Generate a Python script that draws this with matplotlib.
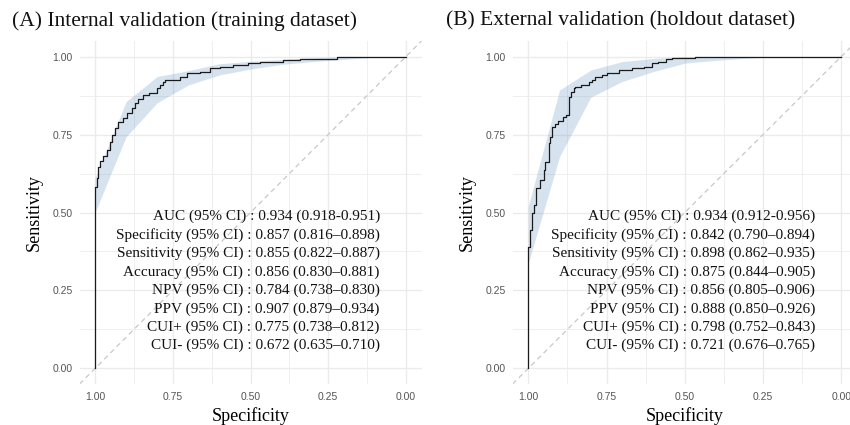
import matplotlib
matplotlib.use("Agg")
import matplotlib.pyplot as plt
import numpy as np

# ---------------- data ----------------
spec_a = [1.0, 1.0, 0.995, 0.99, 0.984, 0.975, 0.963, 0.952, 0.944, 0.936, 0.925, 0.909,
          0.896, 0.882, 0.872, 0.861, 0.845, 0.828, 0.802, 0.791, 0.78, 0.775, 0.727,
          0.705, 0.662, 0.630, 0.598, 0.555, 0.507, 0.469, 0.394, 0.341, 0.223, 0.19, 0.0]
sens_a = [0.0, 0.54, 0.583, 0.61, 0.647, 0.665, 0.68, 0.70, 0.725, 0.749, 0.77, 0.791,
          0.802, 0.818, 0.835, 0.85, 0.865, 0.877, 0.882, 0.898, 0.91, 0.92, 0.925,
          0.936, 0.947, 0.952, 0.963, 0.968, 0.973, 0.981, 0.984, 0.989, 0.991, 1.0, 1.0]

spec_b = [1.0, 1.0, 0.994, 0.988, 0.982, 0.975, 0.962, 0.951, 0.946, 0.935, 0.93, 0.924,
          0.916, 0.905, 0.89, 0.88, 0.871, 0.862, 0.855, 0.85, 0.83, 0.807, 0.795, 0.786,
          0.765, 0.749, 0.711, 0.669, 0.63, 0.605, 0.584, 0.56, 0.541, 0.466, 0.285, 0.0]
sens_b = [0.0, 0.369, 0.39, 0.444, 0.497, 0.524, 0.578, 0.604, 0.636, 0.663, 0.722, 0.743,
          0.775, 0.785, 0.795, 0.805, 0.813, 0.872, 0.885, 0.899, 0.903, 0.909, 0.92, 0.925,
          0.936, 0.941, 0.947, 0.957, 0.963, 0.968, 0.979, 0.984, 0.991, 0.995, 1.0, 1.0]

band_spec = [1.0, 0.9, 0.8, 0.7, 0.6, 0.5, 0.4, 0.3, 0.2, 0.1, 0.0]
band_lo_a = [0.50, 0.743, 0.852, 0.909, 0.941, 0.960, 0.975, 0.984, 0.991, 0.998, 1.0]
band_hi_a = [0.61, 0.856, 0.936, 0.955, 0.977, 0.985, 0.991, 0.996, 1.0, 1.0, 1.0]
band_lo_b = [0.337, 0.679, 0.870, 0.920, 0.952, 0.979, 0.988, 0.995, 1.0, 1.0, 1.0]
band_hi_b = [0.52, 0.893, 0.957, 0.984, 0.994, 1.0, 1.0, 1.0, 1.0, 1.0, 1.0]

titles = ["(A) Internal validation (training dataset)",
          "(B) External validation (holdout dataset)"]

metric_names = ["AUC", "Specificity", "Sensitivity", "Accuracy", "NPV", "PPV", "CUI+", "CUI-"]
metrics_a = ["0.934 (0.918-0.951)", "0.857 (0.816\u20130.898)", "0.855 (0.822\u20130.887)",
             "0.856 (0.830\u20130.881)", "0.784 (0.738\u20130.830)", "0.907 (0.879\u20130.934)",
             "0.775 (0.738\u20130.812)", "0.672 (0.635\u20130.710)"]
metrics_b = ["0.934 (0.912-0.956)", "0.842 (0.790\u20130.894)", "0.898 (0.862\u20130.935)",
             "0.875 (0.844\u20130.905)", "0.856 (0.805\u20130.906)", "0.888 (0.850\u20130.926)",
             "0.798 (0.752\u20130.843)", "0.721 (0.676\u20130.765)"]

ticks = [1.0, 0.75, 0.5, 0.25, 0.0]
tick_labels = ["1.00", "0.75", "0.50", "0.25", "0.00"]

# ---------------- style ----------------
SERIF = ["Liberation Serif", "DejaVu Serif"]
SANS = ["Liberation Sans", "DejaVu Sans"]
GRID = "#EBEBEB"

fig = plt.figure(figsize=(8.5, 4.25), dpi=100)
fig.patch.set_facecolor("white")

positions = [[79.5 / 850, 41 / 425, 342 / 850, 343 / 425],
             [512.6 / 850, 41 / 425, 344.3 / 850, 343 / 425]]
title_x = [12 / 850, 446.5 / 850]

panels = [(spec_a, sens_a, band_lo_a, band_hi_a, metrics_a),
          (spec_b, sens_b, band_lo_b, band_hi_b, metrics_b)]

for i, (sp, se, lo, hi, mets) in enumerate(panels):
    ax = fig.add_axes(positions[i])
    ax.set_facecolor("white")
    for s in ax.spines.values():
        s.set_visible(False)
    ax.set_xlim(1.05, -0.05)
    ax.set_ylim(-0.05, 1.05)
    ax.set_xticks(ticks)
    ax.set_xticklabels(tick_labels)
    ax.set_yticks(ticks[::-1])
    ax.set_yticklabels(tick_labels[::-1])
    ax.set_xticks([0.875, 0.625, 0.375, 0.125], minor=True)
    ax.set_yticks([0.125, 0.375, 0.625, 0.875], minor=True)
    ax.grid(True, which="major", color=GRID, lw=1.0)
    ax.grid(True, which="minor", color=GRID, lw=0.55)
    ax.set_axisbelow(True)
    ax.tick_params(which="both", length=0)
    ax.tick_params(axis="x", pad=5.5)
    ax.tick_params(axis="y", pad=5.0)
    for lab in ax.get_xticklabels() + ax.get_yticklabels():
        lab.set_family(SANS)
        lab.set_fontsize(7.5)
        lab.set_color("#555555")

    # diagonal reference
    ax.plot([1.05, -0.05], [-0.05, 1.05], ls=(0, (4, 3)), color="#C8C8C8", lw=0.9, zorder=1)
    # CI band
    ax.fill_between(band_spec, lo, hi, color="steelblue", alpha=0.22, lw=0, zorder=2)
    # ROC curve
    ax.plot(sp, se, drawstyle="steps-pre", color="#1a1a1a", lw=0.9, zorder=3)

    ax.set_xlabel("Specificity", family=SERIF, fontsize=13, labelpad=4)
    ax.set_ylabel("Sensitivity", family=SERIF, fontsize=13, labelpad=7)

    for k, (name, val) in enumerate(zip(metric_names, mets)):
        ax.text(0.084, 0.4865 - k * 0.0591, f"{name} (95% CI) : {val}",
                ha="right", va="center", family=SERIF, fontsize=11.0, color="#111111",
                zorder=4)

    fig.text(title_x[i], 1 - 21 / 425, titles[i], ha="left", va="center",
             family=SERIF, fontsize=15.5, color="#111111")

fig.savefig("out.png", dpi=100, facecolor="white")
